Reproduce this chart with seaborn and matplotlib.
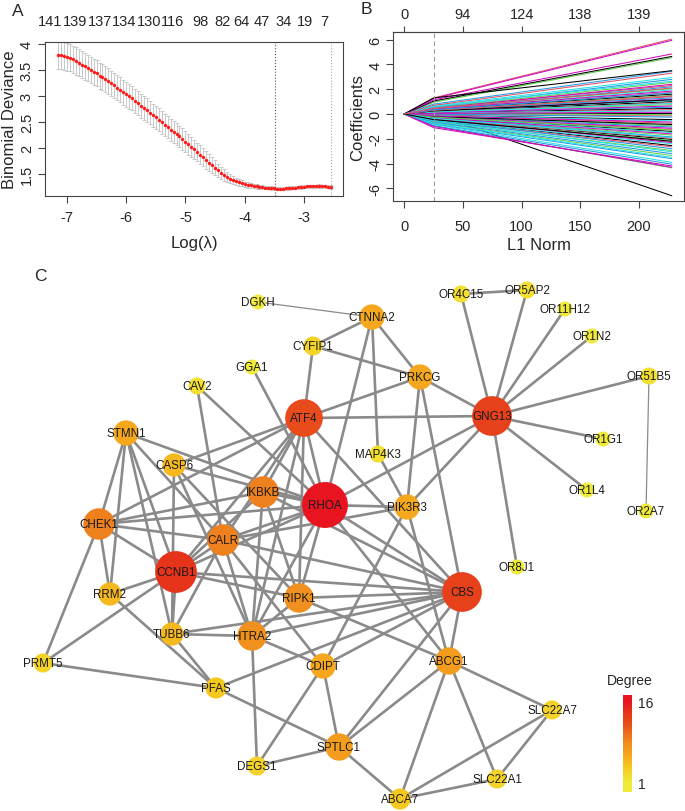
import numpy as np
import pandas as pd
import matplotlib
matplotlib.use('Agg')
import matplotlib.pyplot as plt
import seaborn as sns
from matplotlib.colors import LinearSegmentedColormap, Normalize

# ---------------- panel A: cross-validated binomial deviance
log_lambda = [-7.15, -7.10, -7.05, -7.00, -6.95, -6.90, -6.85, -6.80, -6.75, -6.70,
              -6.65, -6.60, -6.55, -6.50, -6.45, -6.40, -6.35, -6.30, -6.25, -6.20,
              -6.15, -6.10, -6.05, -6.00, -5.95, -5.90, -5.85, -5.80, -5.75, -5.70,
              -5.65, -5.60, -5.55, -5.50, -5.45, -5.40, -5.35, -5.30, -5.25, -5.20,
              -5.15, -5.10, -5.05, -5.00, -4.95, -4.90, -4.85, -4.80, -4.75, -4.70,
              -4.65, -4.60, -4.55, -4.50, -4.45, -4.40, -4.35, -4.30, -4.25, -4.20,
              -4.15, -4.10, -4.05, -4.00, -3.95, -3.90, -3.85, -3.80, -3.75, -3.70,
              -3.65, -3.60, -3.55, -3.50, -3.45, -3.40, -3.35, -3.30, -3.25, -3.20,
              -3.15, -3.10, -3.05, -3.00, -2.95, -2.90, -2.85, -2.80, -2.75, -2.70,
              -2.65, -2.60, -2.55]
deviance = [3.79, 3.78, 3.77, 3.75, 3.73, 3.70, 3.67, 3.64, 3.60, 3.57,
            3.53, 3.50, 3.46, 3.43, 3.39, 3.36, 3.32, 3.28, 3.24, 3.20,
            3.16, 3.12, 3.07, 3.03, 2.99, 2.95, 2.90, 2.86, 2.81, 2.77,
            2.72, 2.68, 2.63, 2.59, 2.54, 2.49, 2.44, 2.40, 2.35, 2.31,
            2.26, 2.22, 2.17, 2.12, 2.07, 2.02, 1.97, 1.92, 1.87, 1.82,
            1.77, 1.72, 1.67, 1.62, 1.57, 1.52, 1.48, 1.44, 1.41, 1.38,
            1.36, 1.34, 1.32, 1.30, 1.29, 1.28, 1.27, 1.26, 1.25, 1.245,
            1.24, 1.235, 1.23, 1.225, 1.22, 1.22, 1.22, 1.225, 1.23, 1.235,
            1.24, 1.245, 1.25, 1.255, 1.26, 1.26, 1.26, 1.265, 1.27, 1.265,
            1.26, 1.255, 1.25]
deviance_se = [0.27, 0.27, 0.27, 0.27, 0.26, 0.26, 0.26, 0.26, 0.26, 0.26,
               0.25, 0.25, 0.25, 0.25, 0.25, 0.25, 0.25, 0.25, 0.24, 0.24,
               0.24, 0.24, 0.24, 0.24, 0.24, 0.23, 0.23, 0.23, 0.23, 0.23,
               0.23, 0.22, 0.22, 0.22, 0.22, 0.22, 0.22, 0.21, 0.21, 0.21,
               0.21, 0.21, 0.21, 0.20, 0.20, 0.19, 0.19, 0.18, 0.18, 0.17,
               0.17, 0.16, 0.15, 0.14, 0.13, 0.12, 0.11, 0.10, 0.09, 0.08,
               0.07, 0.065, 0.06, 0.055, 0.05, 0.045, 0.04, 0.04, 0.035, 0.035,
               0.03, 0.03, 0.03, 0.03, 0.03, 0.03, 0.03, 0.03, 0.03, 0.03,
               0.03, 0.03, 0.03, 0.03, 0.03, 0.03, 0.03, 0.03, 0.03, 0.03,
               0.03, 0.03, 0.03]
nz_pos = [-7.29, -6.87, -6.44, -6.04, -5.62, -5.21, -4.74, -4.38, -4.06, -3.71, -3.35, -2.98, -2.66]
nz_labels = ['141', '139', '137', '134', '130', '116', '98', '82', '64', '47', '34', '19', '7']
lambda_min = -3.48
lambda_1se = -2.54

# ---------------- panel B: coefficient paths
l1_knots = [0, 25, 228]
coef_mid = [0.00, 1.30, 0.95, 0.80, 0.65, 1.25, 1.05, 0.70, -0.95, -0.95,
            -0.85, 1.15, 1.30, 0.50, 0.50, 0.55, 0.60, -1.00, -0.45, 0.30,
            -0.70, -0.80, -0.75, -1.10, 0.35, -0.55, -0.60, -0.65, -0.55, 0.45,
            -0.35, 0.25, 0.45, 0.40, 0.35, 0.40, 0.20, -0.40, -0.45, -0.50,
            -0.50, -0.40, -0.30, 0.15, 0.30, 0.30, 0.25, 0.20, 0.10, -0.20,
            -0.35, -0.30, -0.25, -0.30, 0.00, 0.05, 0.20, 0.15, 0.10, 0.10,
            -0.10, -0.10, -0.15, -0.20, -0.10, -0.25, -0.20, -0.05, 0.05, 0.00,
            0.15, -0.15, 0.25, 0.30, -0.25, 0.35, -0.35, 0.05, -0.45, 0.45]
coef_end = [-6.60, 6.05, 4.55, 3.45, 2.95, 5.95, 4.65, 3.30, -4.35, -4.05,
            -3.90, 4.85, 3.50, 2.30, 2.55, 2.80, 2.65, -4.30, -2.55, 1.75,
            -3.35, -3.60, -3.50, -4.20, 1.60, -2.65, -2.95, -3.20, -3.05, 2.40,
            -2.05, 1.40, 2.05, 2.20, 1.95, 1.85, 1.00, -1.95, -2.15, -2.80,
            -2.40, -2.30, -1.40, 0.90, 1.50, 1.30, 1.10, 1.20, 0.45, -1.25,
            -1.70, -1.85, -1.50, -1.60, 0.05, 0.35, 0.75, 0.55, 0.25, 0.65,
            -0.45, -0.75, -0.95, -1.05, -0.55, -1.15, -0.85, -0.15, -0.05, -0.25,
            0.85, -0.65, 1.15, 1.45, -1.30, 1.70, -1.90, 0.15, -2.20, 2.10]
df_ticks = [0, 50, 100, 150, 200]
df_labels = ['0', '94', '124', '138', '139']
l1_cut = 25

# ---------------- panel C: PPI network
genes = ['DGKH', 'CTNNA2', 'CYFIP1', 'GGA1', 'CAV2', 'ATF4', 'STMN1', 'CASP6', 'IKBKB', 'RHOA',
         'CHEK1', 'CALR', 'CCNB1', 'RRM2', 'RIPK1', 'TUBB6', 'HTRA2', 'PRMT5', 'CDIPT', 'PFAS',
         'SPTLC1', 'DEGS1', 'ABCA7', 'SLC22A1', 'SLC22A7', 'ABCG1', 'CBS', 'OR8J1', 'PIK3R3', 'MAP4K3',
         'PRKCG', 'GNG13', 'OR4C15', 'OR5AP2', 'OR11H12', 'OR1N2', 'OR51B5', 'OR1G1', 'OR1L4', 'OR2A7']
layout_x = [258, 372, 313, 252, 197, 304, 126, 174, 263, 325,
            99, 223, 176, 110, 299, 172, 252, 43, 323, 216,
            339, 257, 400, 497, 552, 449, 462, 517, 407, 378,
            420, 492, 461, 527, 565, 592, 649, 603, 587, 646]
layout_y = [303, 318, 347, 368, 387, 419, 434, 466, 493, 506,
            525, 541, 573, 595, 599, 635, 637, 664, 667, 689,
            748, 767, 800, 780, 711, 662, 593, 568, 508, 455,
            378, 417, 295, 291, 310, 337, 377, 440, 491, 512]
degree = [1, 6, 3, 1, 2, 12, 6, 5, 9, 16,
          9, 9, 14, 5, 8, 5, 8, 3, 6, 4,
          7, 3, 4, 3, 3, 7, 13, 1, 6, 2,
          6, 13, 2, 2, 1, 1, 2, 1, 1, 1]
edges = [('DGKH', 'CTNNA2'), ('CTNNA2', 'CYFIP1'), ('CTNNA2', 'PRKCG'), ('CTNNA2', 'MAP4K3'),
         ('CTNNA2', 'RHOA'), ('CYFIP1', 'ATF4'), ('CYFIP1', 'PRKCG'), ('GGA1', 'RHOA'),
         ('CAV2', 'CALR'), ('CAV2', 'RHOA'), ('ATF4', 'PRKCG'), ('ATF4', 'GNG13'),
         ('ATF4', 'RHOA'), ('ATF4', 'IKBKB'), ('ATF4', 'CALR'), ('ATF4', 'CCNB1'),
         ('ATF4', 'CHEK1'), ('ATF4', 'HTRA2'), ('ATF4', 'CBS'), ('ATF4', 'RIPK1'),
         ('ATF4', 'CASP6'), ('STMN1', 'CHEK1'), ('STMN1', 'RRM2'), ('STMN1', 'CCNB1'),
         ('STMN1', 'TUBB6'), ('STMN1', 'RHOA'), ('STMN1', 'CALR'), ('CASP6', 'TUBB6'),
         ('CASP6', 'RHOA'), ('CASP6', 'HTRA2'), ('CASP6', 'RIPK1'), ('CHEK1', 'IKBKB'),
         ('CHEK1', 'RHOA'), ('CHEK1', 'CCNB1'), ('CHEK1', 'RRM2'), ('CHEK1', 'PRMT5'),
         ('CHEK1', 'CALR'), ('IKBKB', 'RHOA'), ('IKBKB', 'CCNB1'), ('IKBKB', 'HTRA2'),
         ('IKBKB', 'RIPK1'), ('IKBKB', 'CBS'), ('CALR', 'RHOA'), ('CALR', 'CCNB1'),
         ('CALR', 'CBS'), ('CALR', 'TUBB6'), ('CALR', 'CDIPT'), ('CCNB1', 'RHOA'),
         ('CCNB1', 'RIPK1'), ('CCNB1', 'CBS'), ('CCNB1', 'RRM2'), ('CCNB1', 'TUBB6'),
         ('CCNB1', 'PRMT5'), ('RRM2', 'PFAS'), ('RHOA', 'RIPK1'), ('RHOA', 'PIK3R3'),
         ('RHOA', 'GNG13'), ('RHOA', 'CBS'), ('RHOA', 'ABCG1'), ('RHOA', 'HTRA2'),
         ('RIPK1', 'HTRA2'), ('RIPK1', 'CBS'), ('RIPK1', 'ABCG1'), ('TUBB6', 'HTRA2'),
         ('TUBB6', 'CBS'), ('TUBB6', 'PFAS'), ('HTRA2', 'CDIPT'), ('HTRA2', 'DEGS1'),
         ('HTRA2', 'CBS'), ('HTRA2', 'CALR'), ('PRMT5', 'PFAS'), ('PFAS', 'CBS'),
         ('PFAS', 'SPTLC1'), ('CDIPT', 'DEGS1'), ('CDIPT', 'SPTLC1'), ('CDIPT', 'CBS'),
         ('CDIPT', 'PIK3R3'), ('DEGS1', 'SPTLC1'), ('SPTLC1', 'ABCG1'), ('SPTLC1', 'CBS'),
         ('SPTLC1', 'ABCA7'), ('ABCG1', 'ABCA7'), ('ABCG1', 'SLC22A1'), ('ABCG1', 'SLC22A7'),
         ('ABCG1', 'CBS'), ('ABCA7', 'SLC22A7'), ('ABCA7', 'SLC22A1'), ('SLC22A1', 'SLC22A7'),
         ('GNG13', 'PRKCG'), ('GNG13', 'PIK3R3'), ('GNG13', 'OR4C15'), ('GNG13', 'OR5AP2'),
         ('GNG13', 'OR11H12'), ('GNG13', 'OR1N2'), ('GNG13', 'OR51B5'), ('GNG13', 'OR1G1'),
         ('GNG13', 'OR1L4'), ('GNG13', 'OR8J1'), ('OR4C15', 'OR5AP2'), ('OR51B5', 'OR2A7'),
         ('PRKCG', 'PIK3R3'), ('PRKCG', 'CBS'), ('MAP4K3', 'PIK3R3'), ('PIK3R3', 'ABCG1'),
         ('PIK3R3', 'CALR')]
thin_edges = [('DGKH', 'CTNNA2'), ('OR51B5', 'OR2A7')]

# ---------------- style
sns.set_style('ticks')
plt.rcParams['font.family'] = ['Liberation Sans', 'DejaVu Sans']
plt.rcParams['axes.unicode_minus'] = False
plt.rcParams['axes.edgecolor'] = '#444444'
plt.rcParams['axes.linewidth'] = 0.8

W, H = 685, 812
fig = plt.figure(figsize=(W / 100, H / 100), dpi=100)


def px_axes(x0, y0, x1, y1):
    return fig.add_axes([x0 / W, 1 - y1 / H, (x1 - x0) / W, (y1 - y0) / H])


def r_axis_style(ax):
    ax.tick_params(direction='out', length=5, width=0.8, labelsize=10.5, pad=3, color='#444444')
    ax.tick_params(axis='y', labelrotation=90)
    for lbl in ax.get_yticklabels():
        lbl.set_va('center')


# ---- A
axA = px_axes(45, 42.7, 343, 197)
axA.errorbar(log_lambda, deviance, yerr=deviance_se, fmt='none', ecolor='#c8c8c8',
             elinewidth=0.7, capsize=1.5, capthick=0.7, zorder=1)
sns.scatterplot(x=log_lambda, y=deviance, color='#ff1a1a', s=6, linewidth=0, ax=axA, zorder=3)
axA.axvline(lambda_min, color='#555555', ls=':', lw=0.8)
axA.axvline(lambda_1se, color='#a8a8a8', ls=':', lw=0.8)
axA.set_xlim(-7.37, -2.34)
axA.set_ylim(1.077, 4.04)
axA.set_xticks([-7, -6, -5, -4, -3])
axA.set_yticks([1.5, 2, 2.5, 3, 3.5, 4], labels=['1.5', '2', '2.5', '3', '3.5', '4'])
r_axis_style(axA)
axA.tick_params(axis='x', pad=5)
axA.set_xlabel('Log(λ)', fontsize=12)
axA.set_ylabel('Binomial Deviance', fontsize=12)
axA.xaxis.set_label_coords(0.5, -0.255)
axA.yaxis.set_label_coords(-0.094, 0.5)
topA = axA.secondary_xaxis('top')
topA.set_xticks(nz_pos, labels=nz_labels)
topA.tick_params(length=0, labelsize=10.5, pad=10)
topA.spines['top'].set_visible(False)

# ---- B
axB = px_axes(393.3, 33.3, 684, 201.7)
rows = []
for i, (m, e) in enumerate(zip(coef_mid, coef_end)):
    for k, v in zip(l1_knots, [0.0, m, e]):
        rows.append({'path': f'p{i:02d}', 'l1': k, 'coef': v})
paths = pd.DataFrame(rows)
r_cols = ['black', '#DF536B', '#61D04F', '#2297E6', '#28E2E5', '#CD0BBC']
pal = {f'p{i:02d}': r_cols[i % 6] for i in range(len(coef_end))}
sns.lineplot(data=paths, x='l1', y='coef', hue='path', palette=pal, legend=False,
             linewidth=0.75, estimator=None, ax=axB)
axB.axvline(l1_cut, color='#9a9a9a', ls=(0, (4, 3)), lw=0.8)
axB.set_xlim(-9.4, 238.4)
axB.set_ylim(-7.0, 6.6)
axB.set_xticks([0, 50, 100, 150, 200])
axB.set_yticks([-6, -4, -2, 0, 2, 4, 6])
r_axis_style(axB)
axB.tick_params(axis='x', pad=8)
axB.set_xlabel('L1 Norm', fontsize=12)
axB.set_ylabel('Coefficients', fontsize=12)
axB.xaxis.set_label_coords(0.5, -0.215)
axB.yaxis.set_label_coords(-0.097, 0.5)
topB = axB.secondary_xaxis('top')
topB.set_xticks(df_ticks, labels=df_labels)
topB.tick_params(direction='out', length=4, width=0.8, labelsize=10.5, pad=4, color='#444444')

fig.text(18 / W, 1 - 12 / H, 'A', fontsize=12.5, ha='center', va='center')
fig.text(366 / W, 1 - 9 / H, 'B', fontsize=12.5, ha='center', va='center')
fig.text(40 / W, 1 - 277 / H, 'C', fontsize=12.5, ha='center', va='center')

# ---- C
cmap = LinearSegmentedColormap.from_list(
    'degree', [(0.0, '#f0ea3a'), (0.2, '#f5c820'), (0.33, '#f5a81e'), (0.5, '#ef8a1e'),
               (0.7, '#e9521c'), (0.85, '#e6381a'), (1.0, '#e8141f')])
norm = Normalize(1, 16)

axC = px_axes(0, 262, W, H)
axC.set_xlim(0, W)
axC.set_ylim(H, 262)
axC.axis('off')

pos = {g: (x, y) for g, x, y in zip(genes, layout_x, layout_y)}
for a, b in edges:
    lw = 0.9 if (a, b) in thin_edges else 1.9
    axC.plot([pos[a][0], pos[b][0]], [pos[a][1], pos[b][1]], color='#8a8a8a', lw=lw,
             zorder=1, solid_capstyle='butt')

deg = np.array(degree)
radius_px = 7.5 + (deg - 1) * 1.03
sizes = (2 * radius_px * 0.72) ** 2
axC.scatter(layout_x, layout_y, s=sizes, c=deg, cmap=cmap, norm=norm, linewidths=0, zorder=2)
for g, x, y in zip(genes, layout_x, layout_y):
    axC.text(x, y, g, ha='center', va='center', fontsize=8.4, color='#1a1a1a', zorder=3)

# degree colour bar
cax = px_axes(623, 696, 632, 793)
grad = np.linspace(-0.65, 17.1, 256)[:, None]
cax.imshow(grad, aspect='auto', cmap=cmap, norm=norm, origin='lower', extent=[0, 1, -0.65, 17.1])
cax.set_xticks([])
cax.yaxis.tick_right()
cax.set_yticks([1, 16])
cax.tick_params(axis='y', length=0, labelsize=10, pad=4)
for s in cax.spines.values():
    s.set_visible(False)
fig.text(630 / W, 1 - 681 / H, 'Degree', fontsize=10, ha='center', va='center')

fig.savefig('out.png', dpi=100)
